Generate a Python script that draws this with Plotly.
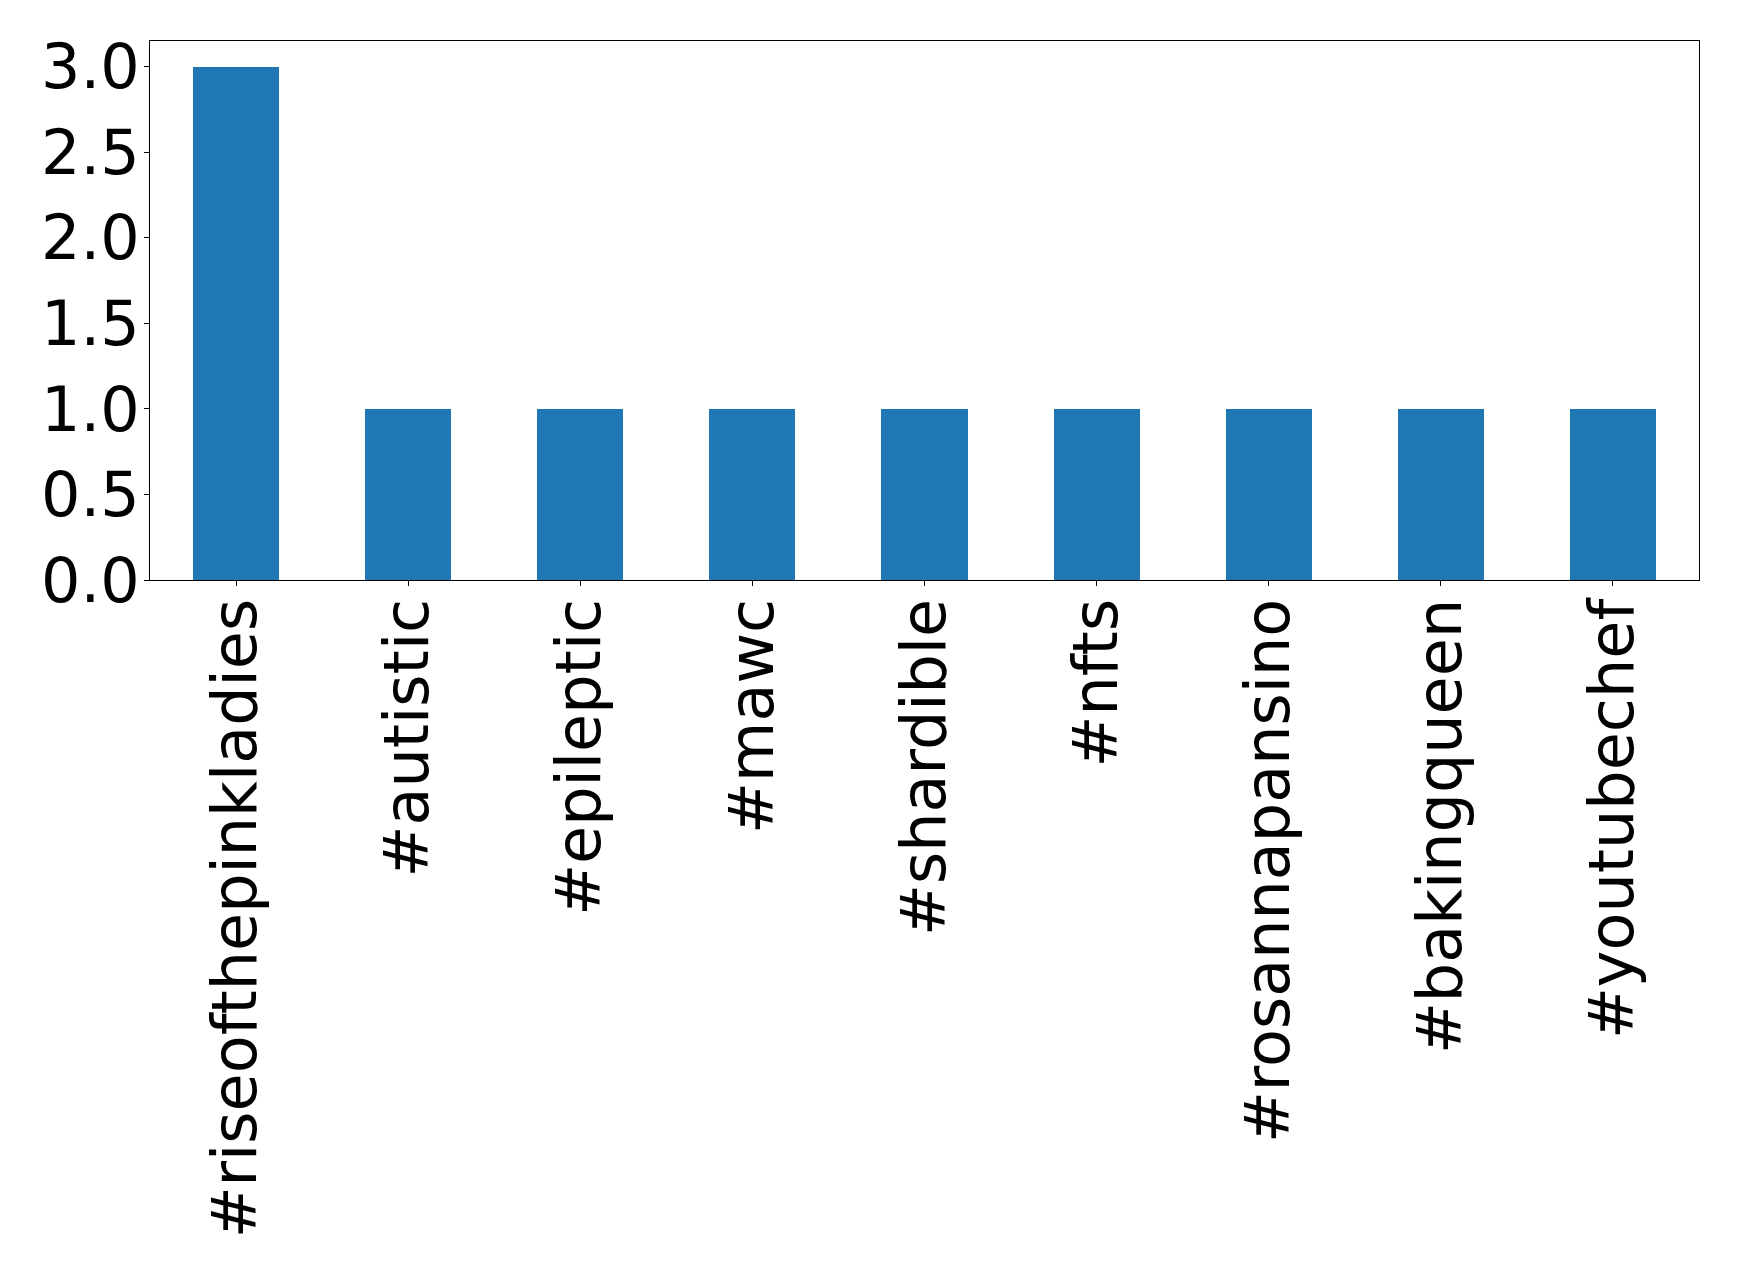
import plotly.graph_objects as go

categories = ["#riseofthepinkladies", "#autistic", "#epileptic", "#mawc", "#shardible",
              "#nfts", "#rosannapansino", "#bakingqueen", "#youtubechef"]
counts = [3, 1, 1, 1, 1, 1, 1, 1, 1]
y_ticks = [0.0, 0.5, 1.0, 1.5, 2.0, 2.5, 3.0]

W, H = 1739, 1273
fig = go.Figure(go.Bar(x=list(range(len(categories))), y=counts, width=0.5,
                       marker=dict(color="#1f77b4", line=dict(width=0))))

font = dict(family="DejaVu Sans", size=62, color="black")
fig.update_layout(
    width=W, height=H,
    margin=dict(l=142, r=48, t=33, b=701, autoexpand=False),
    paper_bgcolor="white", plot_bgcolor="white",
    showlegend=False, bargap=0,
    font=font,
)
fig.update_xaxes(
    range=[-0.5, len(categories) - 0.5],
    tickmode="array", tickvals=list(range(len(categories))), ticktext=categories,
    tickangle=-90, ticks="outside", ticklen=5, tickwidth=1, tickcolor="black",
    ticklabelstandoff=-12,
    showline=True, linecolor="black", linewidth=1, mirror=True,
    showgrid=False, zeroline=False, tickfont=font, automargin=False,
)
fig.update_yaxes(
    range=[0, 3.15],
    tickmode="array", tickvals=y_ticks, ticktext=[f"{v:.1f}" for v in y_ticks],
    ticks="outside", ticklen=5, tickwidth=1, tickcolor="black",
    ticklabelstandoff=-8,
    showline=True, linecolor="black", linewidth=1, mirror=True,
    showgrid=False, zeroline=False, tickfont=font, automargin=False,
)
fig.write_html("out.html")
